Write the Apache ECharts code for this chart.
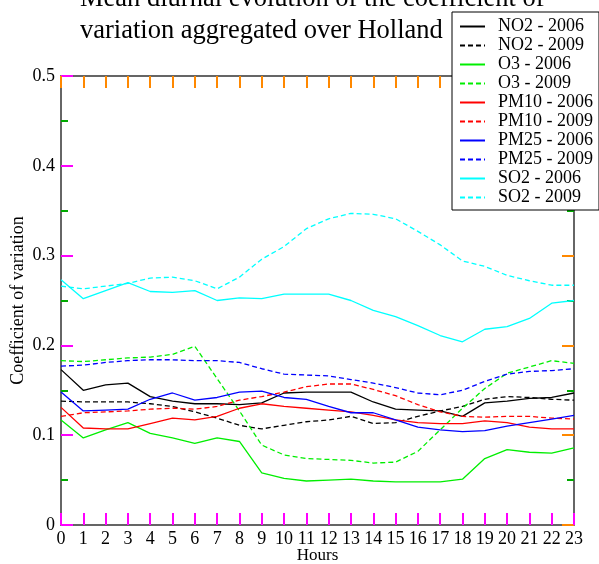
<!DOCTYPE html>
<html>
<head>
<meta charset="utf-8">
<script src="https://cdn.jsdelivr.net/npm/echarts@6/dist/echarts.min.js"></script>
<style>
  html, body { margin: 0; padding: 0; background: #fff; }
  #chart { width: 599px; height: 564px; }
</style>
</head>
<body>
<div id="chart"></div>
<script>
(function() {
    // hours 0..23
    var hours = [0, 1, 2, 3, 4, 5, 6, 7, 8, 9, 10, 11, 12, 13, 14, 15, 16, 17, 18, 19, 20, 21, 22, 23];

    var no2_2006 = [0.173, 0.150, 0.156, 0.158, 0.143, 0.138, 0.135, 0.135, 0.134, 0.136, 0.147, 0.148, 0.148, 0.148, 0.137, 0.129, 0.128, 0.127, 0.121, 0.136, 0.138, 0.141, 0.142, 0.147];
    var no2_2009 = [0.138, 0.137, 0.137, 0.137, 0.135, 0.132, 0.126, 0.119, 0.111, 0.107, 0.111, 0.115, 0.117, 0.121, 0.113, 0.114, 0.121, 0.127, 0.132, 0.140, 0.143, 0.142, 0.140, 0.139];
    var o3_2006 = [0.117, 0.097, 0.106, 0.114, 0.102, 0.097, 0.091, 0.097, 0.093, 0.058, 0.052, 0.049, 0.050, 0.051, 0.049, 0.048, 0.048, 0.048, 0.051, 0.074, 0.084, 0.081, 0.080, 0.086];
    var o3_2009 = [0.183, 0.182, 0.184, 0.186, 0.187, 0.190, 0.199, 0.163, 0.127, 0.089, 0.078, 0.074, 0.073, 0.072, 0.069, 0.070, 0.082, 0.106, 0.130, 0.152, 0.169, 0.176, 0.183, 0.180];
    var pm10_2006 = [0.131, 0.108, 0.107, 0.107, 0.113, 0.119, 0.117, 0.121, 0.130, 0.135, 0.132, 0.130, 0.128, 0.126, 0.122, 0.117, 0.114, 0.113, 0.113, 0.116, 0.114, 0.109, 0.107, 0.107];
    var pm10_2009 = [0.121, 0.125, 0.126, 0.127, 0.129, 0.130, 0.129, 0.132, 0.139, 0.143, 0.148, 0.154, 0.157, 0.157, 0.151, 0.144, 0.134, 0.126, 0.121, 0.120, 0.121, 0.121, 0.119, 0.118];
    var pm25_2006 = [0.148, 0.127, 0.128, 0.129, 0.140, 0.147, 0.139, 0.142, 0.148, 0.149, 0.142, 0.140, 0.132, 0.125, 0.125, 0.117, 0.109, 0.106, 0.104, 0.105, 0.110, 0.114, 0.118, 0.122];
    var pm25_2009 = [0.177, 0.178, 0.181, 0.183, 0.184, 0.184, 0.183, 0.183, 0.181, 0.174, 0.168, 0.167, 0.166, 0.162, 0.158, 0.153, 0.147, 0.145, 0.150, 0.160, 0.168, 0.171, 0.172, 0.174];
    var so2_2006 = [0.273, 0.252, 0.261, 0.270, 0.260, 0.259, 0.261, 0.250, 0.253, 0.252, 0.257, 0.257, 0.257, 0.250, 0.239, 0.232, 0.222, 0.211, 0.204, 0.218, 0.221, 0.230, 0.247, 0.250];
    var so2_2009 = [0.266, 0.263, 0.266, 0.269, 0.275, 0.276, 0.272, 0.263, 0.276, 0.296, 0.310, 0.330, 0.341, 0.347, 0.346, 0.341, 0.327, 0.312, 0.294, 0.288, 0.278, 0.272, 0.267, 0.267];

    var serif = 'Liberation Serif';
    var frameColor = '#333';

    function mkSeries(name, values, color, dashed) {
        return {
            name: name,
            type: 'line',
            data: hours.map(function(h, i) { return [h, values[i]]; }),
            symbol: 'none',
            lineStyle: { color: color, width: 1.3, type: dashed ? [5, 3] : 'solid' },
            itemStyle: { color: color },
            animation: false
        };
    }

    var series = [
        mkSeries('NO2 - 2006', no2_2006, '#000000', false),
        mkSeries('NO2 - 2009', no2_2009, '#000000', true),
        mkSeries('O3 - 2006', o3_2006, '#00ee00', false),
        mkSeries('O3 - 2009', o3_2009, '#00ee00', true),
        mkSeries('PM10 - 2006', pm10_2006, '#ff0000', false),
        mkSeries('PM10 - 2009', pm10_2009, '#ff0000', true),
        mkSeries('PM25 - 2006', pm25_2006, '#0000ff', false),
        mkSeries('PM25 - 2009', pm25_2009, '#0000ff', true),
        mkSeries('SO2 - 2006', so2_2006, '#00ffff', false),
        mkSeries('SO2 - 2009', so2_2009, '#00ffff', true)
    ];

    // check run: main-axis ticks in magenta so they are easy to spot
    function lineOpt(onZero) {
        return { show: true, onZero: onZero, lineStyle: { color: frameColor, width: 1.5 } };
    }
    function tickOpt(c) {
        return { show: true, inside: true, length: 12, lineStyle: { color: c, width: 2 } };
    }
    function minorOpt(c) {
        return { show: true, splitNumber: 2, length: 7, lineStyle: { color: c, width: 2 } };
    }

    var myChart = echarts.init(document.getElementById('chart'), null, { renderer: 'canvas' });
    myChart.setOption({
        animation: false,
        backgroundColor: '#fff',
        title: {
            text: 'Mean diurnal evolution of the coefficient of\nvariation aggregated over Holland',
            left: 80, top: -17, padding: 0,
            textStyle: { fontFamily: serif, fontWeight: 'normal', fontSize: 26.5, lineHeight: 32, color: '#000' }
        },
        legend: {
            orient: 'vertical', left: 452, top: 12, padding: [5, 6, 3, 7],
            itemWidth: 25, itemHeight: 19, itemGap: 0,
            backgroundColor: '#fff', borderColor: '#000', borderWidth: 1, z: 10,
            itemStyle: { opacity: 0 },
            textStyle: { fontFamily: serif, fontSize: 18, lineHeight: 19, color: '#000', padding: [0, 0, 0, 8] },
            data: series.map(function(s) { return s.name; })
        },
        grid: { left: 61, right: 25, top: 76, bottom: 39, containLabel: false, outerBoundsMode: 'none' },
        xAxis: [{
            type: 'value', min: 0, max: 23, interval: 1,
            name: 'Hours', nameLocation: 'middle', nameGap: 22, nameMoveOverlap: false,
            nameTextStyle: { fontFamily: serif, fontSize: 17, color: '#000' },
            axisLine: lineOpt(true),
            axisTick: tickOpt('#f0f'),
            axisLabel: { fontFamily: serif, fontSize: 18, color: '#000', margin: 5 },
            splitLine: { show: false }
        }, {
            type: 'value', position: 'top', min: 0, max: 23, interval: 1,
            axisLine: lineOpt(false),
            axisTick: tickOpt('#f80'),
            axisLabel: { show: false },
            splitLine: { show: false }
        }],
        yAxis: [{
            type: 'value', min: 0, max: 0.5, interval: 0.1,
            name: 'Coefficient of variation', nameLocation: 'middle', nameGap: 34, nameMoveOverlap: false,
            nameTextStyle: { fontFamily: serif, fontSize: 18, color: '#000' },
            axisLine: lineOpt(true),
            axisTick: tickOpt('#f0f'),
            minorTick: minorOpt('#0a0'),
            axisLabel: { fontFamily: serif, fontSize: 18, color: '#000', margin: 6 },
            splitLine: { show: false }
        }, {
            type: 'value', position: 'right', min: 0, max: 0.5, interval: 0.1,
            axisLine: lineOpt(false),
            axisTick: tickOpt('#f80'),
            minorTick: minorOpt('#0a0'),
            axisLabel: { show: false },
            splitLine: { show: false }
        }],
        series: series
    });
})();
</script>
</body>
</html>
